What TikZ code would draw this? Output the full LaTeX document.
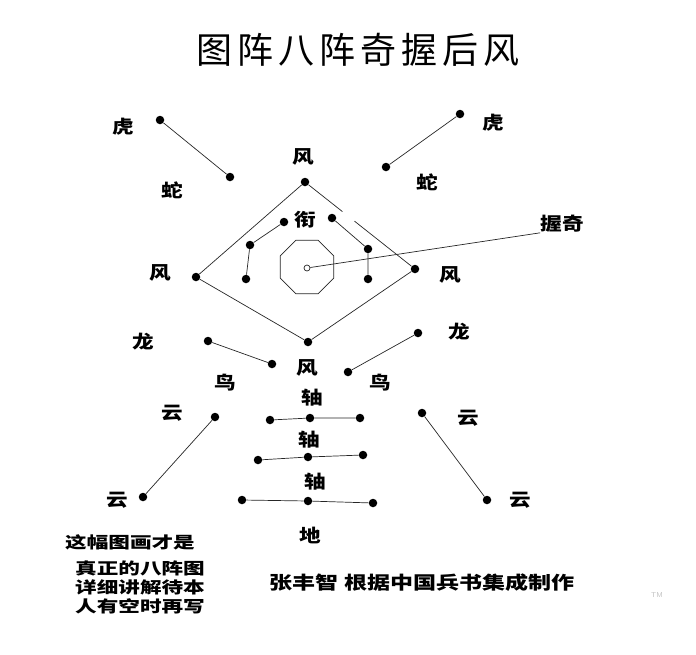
\documentclass[tikz,border=0pt]{standalone}
\usepackage{fontspec}
\newfontfamily\cjk{Noto Sans CJK SC}
\usetikzlibrary{shapes.geometric,calc}
\newcommand{\wide}[2][1.2]{\scalebox{#1}[1]{#2}}

\begin{document}
\begin{tikzpicture}[x=1pt,y=-1pt,
    dot/.style={circle,fill=black,inner sep=0pt,minimum size=8.5pt},
    lab/.style={font=\cjk\bfseries\fontsize{18}{18}\selectfont,inner sep=0pt},
    note/.style={font=\cjk\bfseries\fontsize{16}{19}\selectfont,inner sep=0pt,align=center},
    link/.style={black!85,line width=0.7pt}]
  \useasboundingbox (0,0) rectangle (696,654);

  % Title
  \node[font=\cjk\fontsize{36}{36}\selectfont\addfontfeatures{LetterSpace=14}] (title) at (358,50) {图阵八阵奇握后风};

  % Dots of the tigers
  \node[dot] (hu1) at (160,120) {};
  \node[dot] (hu2) at (230,177) {};
  \node[dot] (hu3) at (460,114) {};
  \node[dot] (hu4) at (386,167) {};

  % Dots of the diamond
  \node[dot] (fTop) at (305,182) {};
  \node[dot] (fLeft) at (196,277) {};
  \node[dot] (fBottom) at (308,342) {};
  \node[dot] (fRight) at (415,269) {};

  % Dots inside the diamond
  \node[dot] (in1) at (284,222) {};
  \node[dot] (in2) at (250,245) {};
  \node[dot] (in3) at (246,279) {};
  \node[dot] (in4) at (332,218) {};
  \node[dot] (in5) at (368,249) {};
  \node[dot] (in6) at (368,279) {};

  % Octagon and its centre
  \node[link,draw,regular polygon,regular polygon sides=8,minimum size=58pt,inner sep=0pt] (oct) at (307,267) {};
  \node[link,draw,circle,fill=white,inner sep=0pt,minimum size=6pt] (qi) at (307,268) {};

  % Dots of the dragons
  \node[dot] (long1) at (208,341) {};
  \node[dot] (long2) at (272,364) {};
  \node[dot] (long3) at (418,333) {};
  \node[dot] (long4) at (348,372) {};

  % Dots of the clouds
  \node[dot] (yun1) at (215,417) {};
  \node[dot] (yun2) at (143,497) {};
  \node[dot] (yun3) at (422,413) {};
  \node[dot] (yun4) at (487,500) {};

  % Dots of the axes
  \node[dot] (zA1) at (270,420) {};
  \node[dot] (zA2) at (310,418) {};
  \node[dot] (zA3) at (360,418) {};
  \node[dot] (zB1) at (258,460) {};
  \node[dot] (zB2) at (308,457) {};
  \node[dot] (zB3) at (363,455) {};
  \node[dot] (zC1) at (242,500) {};
  \node[dot] (zC2) at (308,501) {};
  \node[dot] (zC3) at (373,503) {};

  % Label the points
  \node[lab] (tigerL) at (123,127) {\wide{虎}};
  \node[lab] (tigerR) at (493,123) {\wide{虎}};
  \node[lab] (snakeL) at (172,190) {\wide{蛇}};
  \node[lab] (snakeR) at (427,182) {\wide{蛇}};
  \node[lab] (windT) at (303,157) {\wide{风}};
  \node[lab] (windL) at (160,273) {\wide{风}};
  \node[lab] (windR) at (450,275) {\wide{风}};
  \node[lab] (windB) at (307,368) {\wide{风}};
  \node[lab] (xian) at (305,220) {\wide{衔}};
  \node[lab] (woqi) at (562,224) {\wide{握奇}};
  \node[lab] (dragonL) at (143,342) {\wide{龙}};
  \node[lab] (dragonR) at (459,332) {\wide{龙}};
  \node[lab] (birdL) at (225,383) {\wide{鸟}};
  \node[lab] (birdR) at (380,383) {\wide{鸟}};
  \node[lab] (cloudL1) at (172,413) {\wide{云}};
  \node[lab] (cloudL2) at (117,500) {\wide{云}};
  \node[lab] (cloudR1) at (468,418) {\wide{云}};
  \node[lab] (cloudR2) at (520,500) {\wide{云}};
  \node[lab] (axis1) at (312,398) {\wide{轴}};
  \node[lab] (axis2) at (309,440) {\wide{轴}};
  \node[lab] (axis3) at (315,482) {\wide{轴}};
  \node[lab] (earth) at (310,535) {\wide{地}};

  % Draw lines
  \draw[link] (hu1) -- (hu2);
  \draw[link] (hu3) -- (hu4);
  \draw[link] (fTop) -- (fLeft) -- (fBottom) -- (fRight);
  \draw[link] (fTop) -- ($(fTop)!0.34!(fRight)$);
  \draw[link] ($(fTop)!0.45!(fRight)$) -- (fRight);
  \draw[link] (in1) -- (in2) -- (in3);
  \draw[link] (in4) -- (in5) -- (in6);
  \draw[link] (qi) -- (woqi.south west);
  \draw[link] (long1) -- (long2);
  \draw[link] (long3) -- (long4);
  \draw[link] (yun1) -- (yun2);
  \draw[link] (yun3) -- (yun4);
  \draw[link] (zA1) -- (zA2) -- (zA3);
  \draw[link] (zB1) -- (zB2) -- (zB3);
  \draw[link] (zC1) -- (zC2) -- (zC3);

  % Notes at the bottom
  \node[note] (note1) at (130,542) {\wide[1.35]{这幅图画才是}};
  \node[note] (note2) at (140,587) {\wide[1.35]{真正的八阵图}\\ \wide[1.35]{详细讲解待本}\\ \wide[1.35]{人有空时再写}};
  \node[note,font=\cjk\bfseries\fontsize{18}{18}\selectfont] (credit) at (422,583) {\wide[1.28]{张丰智}\hspace{6pt}\wide[1.28]{根据中国兵书集成制作}};
  \node[text=black!25,font=\sffamily\fontsize{7}{7}\selectfont] (tm) at (657,595) {TM};
\end{tikzpicture}
\end{document}
